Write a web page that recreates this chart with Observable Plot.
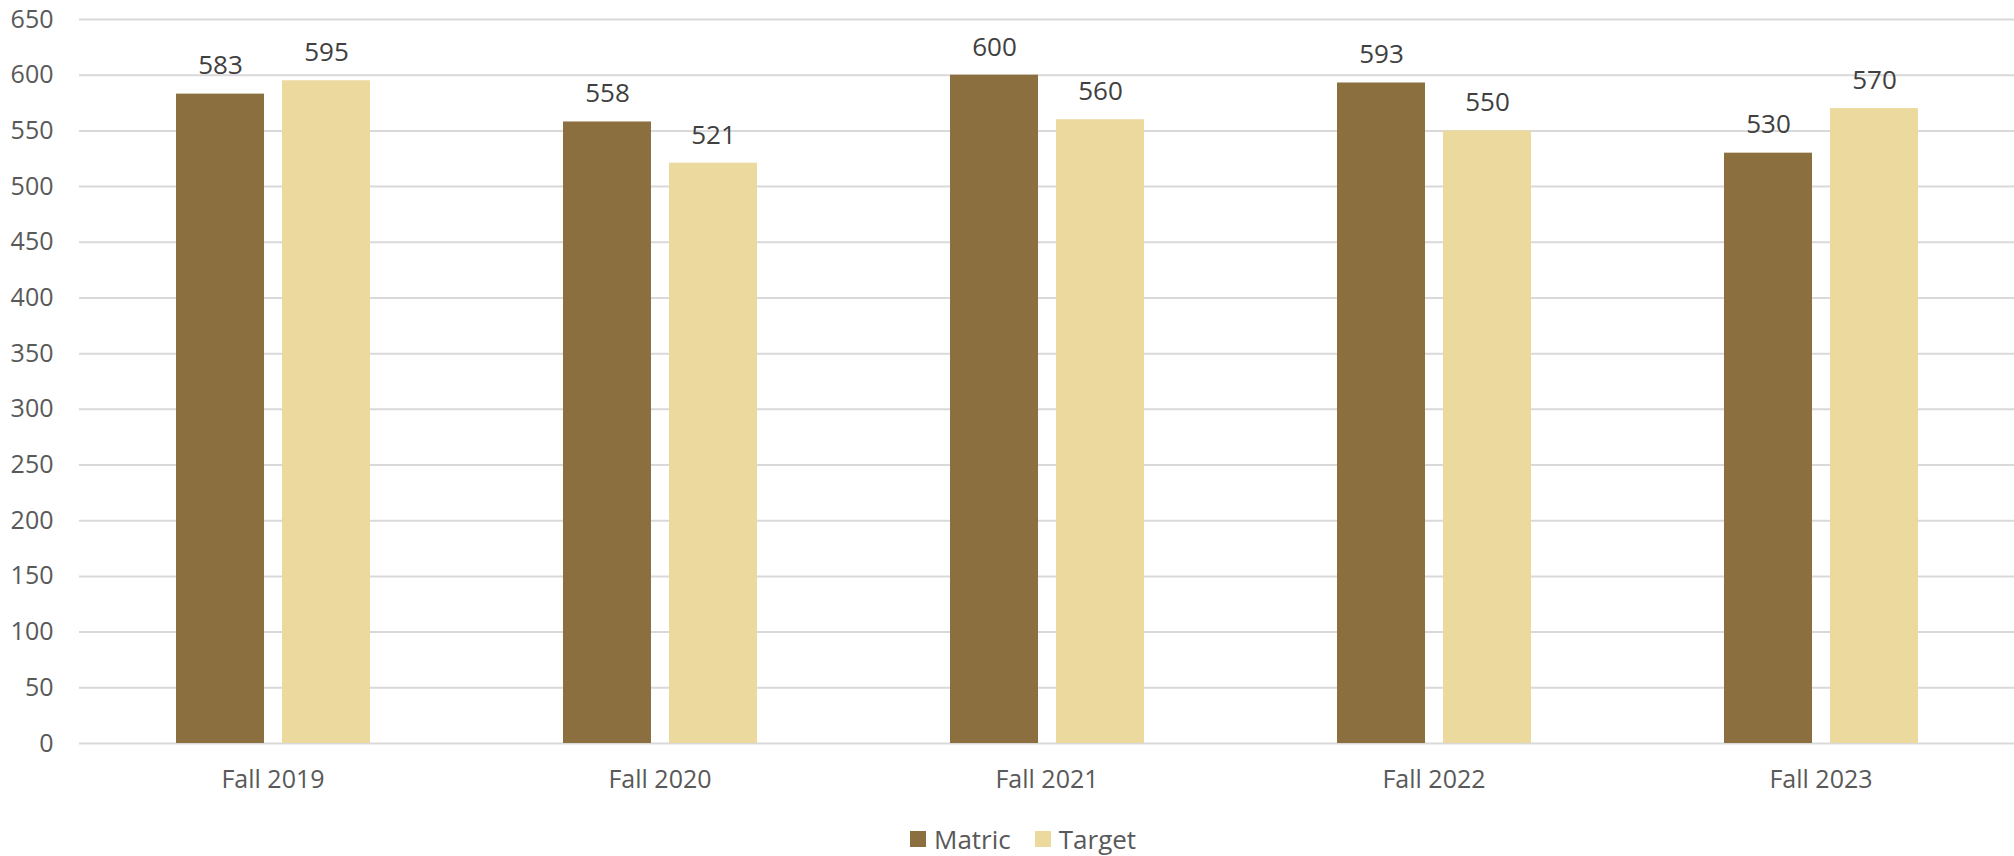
<!DOCTYPE html>
<html>
<head>
<meta charset="utf-8">
<script src="https://cdn.jsdelivr.net/npm/d3@7"></script>
<script src="https://cdn.jsdelivr.net/npm/@observablehq/plot@0.6"></script>
<style>
  html, body { margin: 0; padding: 0; background: #fff; }
  body { width: 2014px; height: 856px; position: relative; overflow: hidden; font-family: "Open Sans", sans-serif; }
  #legend { position: absolute; left: 910px; top: 824px; display: flex; align-items: center; font-size: 26px; color: #595959; line-height: 30px; }
  #legend .item { display: flex; align-items: center; margin-right: 24px; }
  #legend .sw { width: 16px; height: 16px; margin-right: 8px; }
</style>
</head>
<body>
<div id="chart"></div>
<div id="legend"></div>
<script>
const categories = ["Fall 2019", "Fall 2020", "Fall 2021", "Fall 2022", "Fall 2023"];
const seriesNames = ["Matric", "Target"];
const matric = [583, 558, 600, 593, 530];
const target = [595, 521, 560, 550, 570];
const yTicks = [0, 50, 100, 150, 200, 250, 300, 350, 400, 450, 500, 550, 600, 650];
const colors = ["#8B6F3E", "#EBD99E"];

const rows = [];
categories.forEach((c, i) => {
  rows.push({cat: c, series: "Matric", value: matric[i]});
  rows.push({cat: c, series: "Target", value: target[i]});
});

const chart = Plot.plot({
  width: 2014,
  height: 810,
  marginTop: 19,
  marginBottom: 67,
  marginLeft: 78,
  marginRight: 0,
  style: {fontFamily: "Open Sans, sans-serif", background: "#fff", overflow: "visible"},
  fx: {domain: categories, padding: 0, label: null},
  x: {domain: seriesNames, paddingInner: 0.17, paddingOuter: 0.91, axis: null},
  y: {domain: [0, 650], label: null},
  color: {domain: seriesNames, range: colors},
  marks: [
    Plot.gridY(yTicks, {stroke: "#d9d9d9", strokeOpacity: 1, strokeWidth: 2}),
    Plot.barY(rows, {fx: "cat", x: "series", y: "value", fill: "series"}),
    Plot.text(rows, {fx: "cat", x: "series", y: "value", text: d => String(d.value), lineAnchor: "middle", dy: -28, fontSize: 26, fill: "#404040"}),
    Plot.axisY({ticks: yTicks, tickSize: 0, tickPadding: 26, fontSize: 25, color: "#595959", label: null}),
    Plot.axisFx({anchor: "bottom", tickSize: 0, tickPadding: 27, fontSize: 25, color: "#595959", label: null})
  ]
});
document.getElementById("chart").appendChild(chart);

const legend = document.getElementById("legend");
seriesNames.forEach((s, i) => {
  const item = document.createElement("div");
  item.className = "item";
  const sw = document.createElement("div");
  sw.className = "sw";
  sw.style.background = colors[i];
  const lab = document.createElement("span");
  lab.textContent = s;
  item.appendChild(sw);
  item.appendChild(lab);
  legend.appendChild(item);
});
</script>
</body>
</html>
